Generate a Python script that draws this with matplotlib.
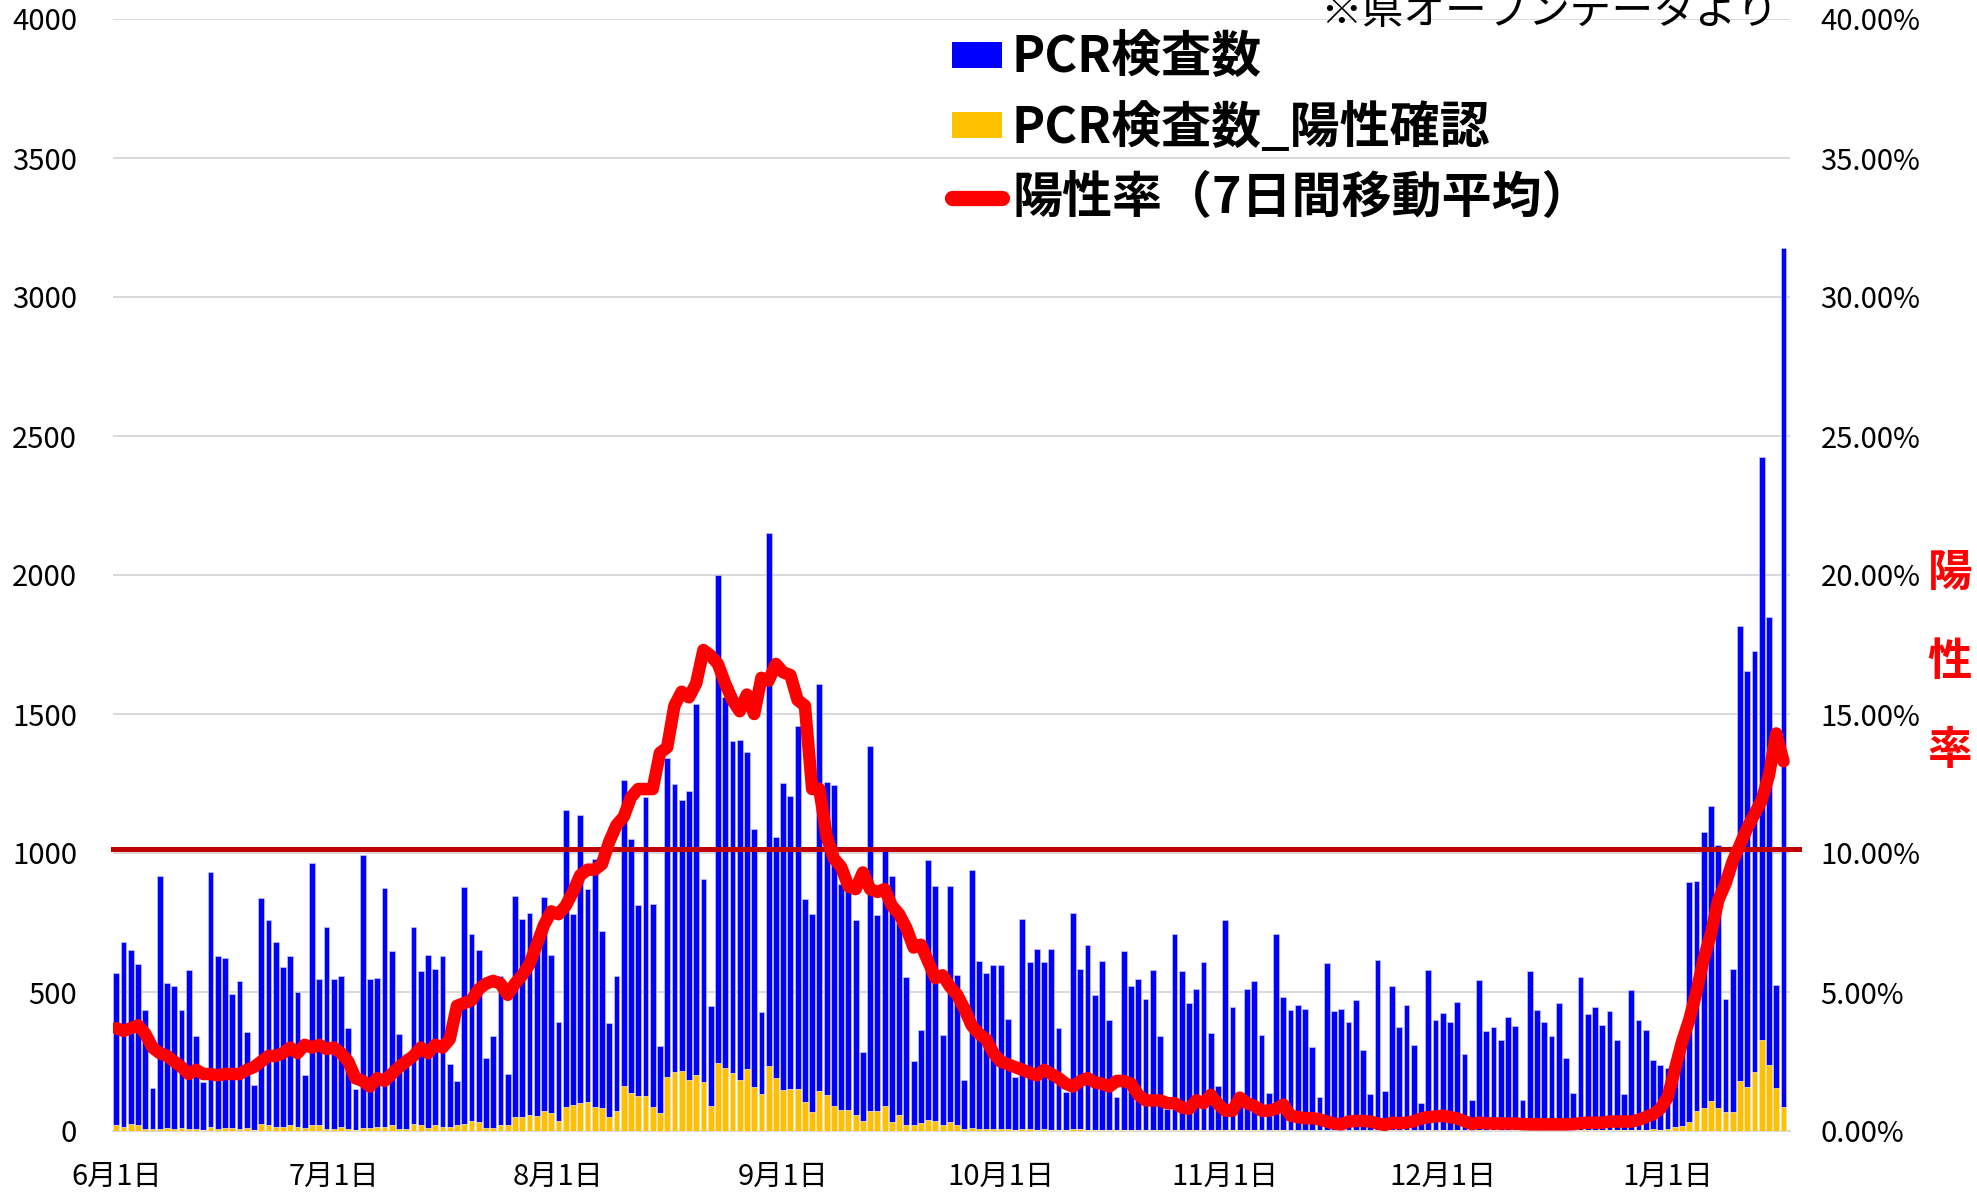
import matplotlib
matplotlib.use('Agg')
import matplotlib.pyplot as plt
import numpy as np
import datetime as dt
from matplotlib.patches import Patch
from matplotlib.lines import Line2D
from matplotlib.ticker import FuncFormatter

plt.rcParams['font.family'] = ['Noto Sans CJK JP', 'DejaVu Sans']

# ---------------- data ----------------
start_date = dt.date(2020, 6, 1)

pcr_tests = [
    570, 680, 651, 600, 437, 153, 918, 531, 522, 437, 579, 343, 175, 930, 631, 621, 493, 539, 355, 167,
    837, 759, 680, 591, 631, 501, 200, 964, 548, 733,
    547, 556, 372, 150, 994, 547, 552, 875, 646, 350, 278, 733, 577, 634, 582, 629, 240, 179, 879, 707,
    651, 261, 342, 556, 205, 844, 762, 785, 706,
    842, 633, 393, 1156, 780, 1135, 870, 979, 720, 389, 559, 1263, 1050, 812, 1203, 815, 307, 1340, 1250, 1191,
    1222, 1536, 906, 451, 2000, 1560, 1403, 1407, 1362, 1086,
    429, 2152, 1057, 1253, 1205, 1457, 833, 779, 1609, 1256, 1244, 890, 877, 759, 285, 1386, 776, 1006, 917, 750,
    555, 251, 362, 975, 883, 345, 883, 562, 182,
    939, 612, 570, 596, 596, 402, 193, 763, 609, 655, 609, 655, 372, 140, 785, 583, 669, 488, 612, 399,
    123, 646, 522, 548, 475, 579, 342, 80, 707,
    577, 460, 512, 607, 352, 163, 758, 447, 90, 512, 538, 344, 136, 707, 482, 435, 452, 439, 301, 124,
    603, 430, 439, 391, 473, 291, 134, 616, 144,
    521, 374, 452, 308, 102, 580, 399, 425, 391, 464, 276, 112, 543, 361, 374, 327, 409, 379, 112, 577,
    435, 391, 340, 460, 261, 137, 555,
    421, 447, 382, 433, 326, 134, 508, 401, 363, 254, 239, 227, 200, 300, 897, 901, 1075, 1170, 1029, 475,
    584, 1817, 1653, 1726, 2423, 1850, 525, 3177,
]

pcr_positive = [
    20, 16, 24, 20, 8, 8, 8, 12, 8, 12, 8, 8, 4, 16, 8, 12, 12, 8, 12, 4,
    24, 20, 16, 16, 20, 16, 12, 20, 20, 8,
    8, 16, 8, 4, 12, 12, 16, 16, 20, 8, 8, 24, 20, 12, 20, 16, 16, 20, 24, 37,
    31, 12, 12, 20, 20, 50, 50, 58, 54,
    71, 65, 37, 85, 94, 100, 106, 85, 81, 52, 72, 162, 137, 127, 127, 85, 65, 196, 212, 217,
    183, 200, 178, 89, 243, 226, 208, 182, 222, 158,
    133, 234, 192, 149, 152, 152, 106, 70, 145, 129, 89, 77, 77, 59, 37, 72, 72, 89, 34, 56,
    22, 22, 27, 41, 37, 22, 33, 22, 7,
    10, 8, 8, 6, 8, 6, 5, 6, 8, 5, 8, 4, 3, 3, 8, 8, 4, 4, 3, 3,
    2, 4, 3, 3, 4, 3, 3, 2, 3,
    3, 2, 2, 3, 2, 2, 2, 2, 2, 2, 2, 2, 1, 2, 2, 1, 1, 1, 1, 1,
    1, 1, 1, 1, 1, 1, 1, 1, 1,
    2, 1, 2, 1, 1, 2, 1, 2, 1, 2, 1, 1, 2, 1, 2, 1, 1, 2, 1, 2,
    1, 1, 2, 1, 1, 1, 2,
    3, 3, 2, 3, 4, 2, 3, 5, 4, 8, 4, 8, 13, 19, 34, 71, 84, 107, 82, 67,
    67, 181, 160, 214, 326, 239, 155, 86,
]

# 7-day moving average positivity rate (%)
positivity_7day = [
    3.7, 3.6, 3.7, 3.8, 3.5, 3.0, 2.8, 2.7, 2.5, 2.3, 2.05, 2.2, 2.05, 2.05, 2.0, 2.05, 2.05, 2.05, 2.2, 2.3,
    2.5, 2.7, 2.7, 2.8, 3.0, 2.8, 3.1, 3.0, 3.1, 2.95,
    3.0, 2.8, 2.5, 1.9, 1.8, 1.6, 1.9, 1.8, 2.05, 2.3, 2.5, 2.7, 3.0, 2.8, 3.1, 3.0, 3.3, 4.5, 4.6, 4.7,
    5.1, 5.3, 5.4, 5.3, 4.9, 5.3, 5.6, 6.0, 6.7,
    7.4, 7.9, 7.8, 8.1, 8.6, 9.2, 9.4, 9.4, 9.6, 10.4, 11.0, 11.3, 12.0, 12.3, 12.3, 12.3, 13.6, 13.8, 15.3, 15.8,
    15.6, 16.1, 17.3, 17.1, 16.8, 16.1, 15.5, 15.1, 15.7, 15.0,
    16.3, 16.2, 16.8, 16.5, 16.4, 15.5, 15.3, 12.3, 12.3, 10.6, 9.8, 9.5, 8.8, 8.7, 9.3, 8.7, 8.6, 8.7, 8.1, 7.8,
    7.3, 6.6, 6.7, 6.1, 5.5, 5.6, 5.2, 4.9, 4.4,
    3.8, 3.5, 3.3, 2.8, 2.5, 2.4, 2.3, 2.2, 2.1, 2.0, 2.2, 2.05, 1.9, 1.7, 1.6, 1.8, 1.9, 1.75, 1.7, 1.6,
    1.8, 1.8, 1.7, 1.3, 1.1, 1.1, 1.1, 1.0, 1.0,
    0.85, 0.8, 1.1, 1.0, 1.3, 0.97, 0.73, 0.73, 1.2, 1.0, 0.9, 0.73, 0.73, 0.8, 0.95, 0.55, 0.5, 0.46, 0.46, 0.42,
    0.34, 0.27, 0.24, 0.34, 0.36, 0.36, 0.34, 0.27, 0.22,
    0.3, 0.28, 0.3, 0.35, 0.45, 0.5, 0.52, 0.55, 0.5, 0.45, 0.35, 0.25, 0.3, 0.28, 0.27, 0.27, 0.27, 0.27, 0.25, 0.24,
    0.24, 0.24, 0.24, 0.24, 0.24, 0.25, 0.28,
    0.3, 0.3, 0.3, 0.34, 0.34, 0.34, 0.34, 0.4, 0.5, 0.6, 0.8, 1.2, 2.2, 3.2, 4.0, 5.0, 6.2, 7.1, 8.3, 8.9,
    9.7, 10.3, 10.9, 11.4, 11.9, 12.8, 14.3, 13.3,
]

threshold_rate = 10.15  # %

month_ticks = ['2020-06-01', '2020-07-01', '2020-08-01', '2020-09-01',
               '2020-10-01', '2020-11-01', '2020-12-01', '2021-01-01']
month_labels = ['6月1日', '7月1日', '8月1日', '9月1日', '10月1日', '11月1日', '12月1日', '1月1日']

legend_labels = ['PCR検査数', 'PCR検査数_陽性確認', '陽性率（7日間移動平均）']
source_note = '※県オープンデータより'
right_label = '陽\n性\n率'

# ---------------- figure ----------------
W, H = 1977, 1194
fig = plt.figure(figsize=(W / 100, H / 100), dpi=100)
L, R, T, B = 113, 1790, 19, 1131
ax = fig.add_axes([L / W, 1 - B / H, (R - L) / W, (B - T) / H])

x = np.arange(len(pcr_tests))
ax.bar(x, pcr_tests, width=0.8, color='#0000FF', edgecolor='#c8c8ff', linewidth=0.5, zorder=2)
ax.bar(x, pcr_positive, width=0.8, color='#FFC000', edgecolor='#fff0c0', linewidth=0.5, zorder=3)

ax.set_ylim(0, 4000)
ax.set_yticks(np.arange(0, 4001, 500))
ax.set_xlim(-0.45, 230.9)
ax.grid(axis='y', color='#d9d9d9', linewidth=1.4, zorder=0)
ax.set_axisbelow(True)
for s in ['top', 'right', 'left']:
    ax.spines[s].set_visible(False)
ax.spines['bottom'].set_color('#d9d9d9')
ax.spines['bottom'].set_linewidth(1.4)

tick_pos = [(dt.date.fromisoformat(d) - start_date).days for d in month_ticks]
ax.set_xticks(tick_pos)
ax.set_xticklabels(month_labels, fontsize=21)
ax.tick_params(axis='x', length=0, pad=22)
ax.tick_params(axis='y', length=0, pad=26, labelsize=21)

ax2 = ax.twinx()
ax2.set_ylim(0, 0.40)
ax2.set_yticks(np.arange(0, 0.4001, 0.05))
ax2.yaxis.set_major_formatter(FuncFormatter(lambda v, p: f'{v * 100:.2f}%'))
ax2.tick_params(axis='y', length=0, pad=22, labelsize=21)
for s in ax2.spines.values():
    s.set_visible(False)

ax2.plot([-0.45, 232.1], [threshold_rate / 100] * 2, color='#C00000', linewidth=3.6,
         clip_on=False, zorder=3)
ax2.plot(x, np.array(positivity_7day) / 100, color='#FF0000', linewidth=9,
         solid_joinstyle='round', solid_capstyle='round', zorder=4)

ax2.set_ylabel(right_label, rotation=0, color='#FF0000', fontsize=32, fontweight='bold',
               linespacing=2.2, va='center', ha='center')
ax2.yaxis.set_label_coords((1950 - L) / (R - L), (B - 662) / (B - T))

handles = [Patch(facecolor='#0000FF', edgecolor='none'),
           Patch(facecolor='#FFC000', edgecolor='none'),
           Line2D([0], [0], color='#FF0000', linewidth=11, solid_capstyle='round')]
fig.legend(handles, legend_labels, loc='upper left', bbox_to_anchor=(952 / W, 1 - 33 / H),
           frameon=False, prop=dict(size=36, weight='bold'), handlelength=1.0,
           handleheight=0.42, handletextpad=0.2, labelspacing=0.38, borderpad=0,
           borderaxespad=0)

fig.text(1320 / W, 1 - 24 / H, source_note, fontsize=30, ha='left', va='baseline', color='black')

fig.savefig('out.png', dpi=100)
